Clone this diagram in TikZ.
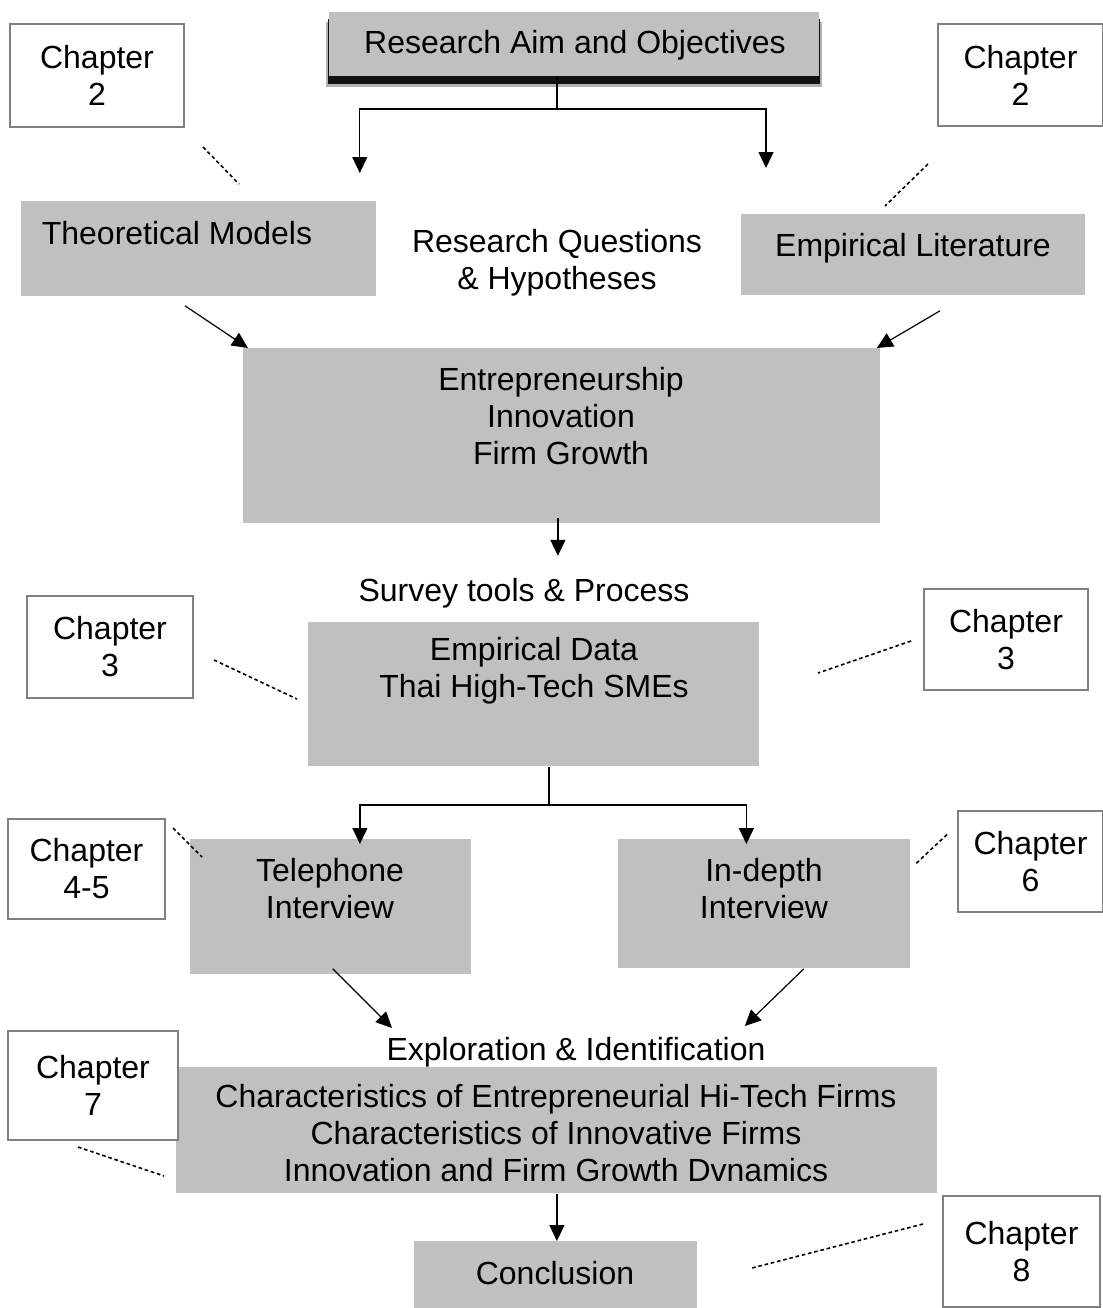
\documentclass[tikz,border=0pt]{standalone}
\usepackage{fontspec}
\setmainfont{Liberation Sans}
\usetikzlibrary{arrows.meta,shadows}
\definecolor{panelgray}{HTML}{C0C0C0}
\definecolor{framegray}{HTML}{808080}

\begin{document}
\begin{tikzpicture}[x=0.5pt, y=-0.5pt]

  % Styles
  \tikzset{
    every node/.style={font=\fontsize{16}{18.5}\selectfont},
    panel/.style={fill=panelgray, inner sep=0pt, anchor=north west},
    caption/.style={align=center, inner sep=0pt},
    chapbox/.style={draw=framegray, line width=1pt, fill=white, align=center,
      inner sep=0pt, anchor=north west},
    link/.style={line width=0.6pt},
    arr/.style={link, -{Triangle[length=8pt,width=7.5pt]}},
    hint/.style={line width=0.8pt, dash pattern=on 1.8pt off 1.4pt}
  }

  % Page
  \path[use as bounding box, fill=white] (0,0) rectangle (1103,1308);

  % Aim
  \node[panel, minimum width=245pt, minimum height=32pt,
    general shadow={fill=black, shadow yshift=-5pt, shadow scale=1.012, opacity=0.3},
    general shadow={fill=black, shadow yshift=-3.5pt, shadow scale=1.004, opacity=0.9}]
    (aim) at (329,12) {};
  \node[caption] (aim-txt) at (575,45) {Research Aim and Objectives};

  % Literature
  \node[panel, minimum width=177.5pt, minimum height=47.5pt] (theory) at (21,201) {};
  \node[caption] (theory-txt) at (177,233) {Theoretical Models};

  \node[caption] (rq) at (557,263) {Research Questions\\\& Hypotheses};

  \node[panel, minimum width=172pt, minimum height=40.5pt] (emplit) at (741,214) {};
  \node[caption] (emplit-txt) at (913,248) {Empirical Literature};

  % Core concepts
  \node[panel, minimum width=318.5pt, minimum height=87.5pt] (core) at (243,348) {};
  \node[caption] (core-txt) at (561,416) {Entrepreneurship\\Innovation\\Firm Growth};

  % Data
  \node[caption] (survey) at (524,593) {Survey tools \& Process};

  \node[panel, minimum width=225.5pt, minimum height=72pt] (empdata) at (308,622) {};
  \node[caption] (empdata-txt) at (534,671) {Empirical Data\\Thai High-Tech SMEs};

  \node[panel, minimum width=140.5pt, minimum height=67.5pt] (tel) at (190,839) {};
  \node[caption] (tel-txt) at (330,889) {Telephone\\Interview};

  \node[panel, minimum width=146pt, minimum height=64.5pt] (indepth) at (618,839) {};
  \node[caption] (indepth-txt) at (764,889) {In-depth\\Interview};

  % Findings
  \node[caption] (expl) at (576,1052) {Exploration \& Identification};

  \node[panel, minimum width=380.5pt, minimum height=63pt] (chars) at (176,1067) {};
  \node[caption] (chars-txt) at (556,1133) {Characteristics of Entrepreneurial Hi-Tech Firms\\Characteristics of Innovative Firms\\Innovation and Firm Growth Dvnamics};

  \node[panel, minimum width=141.5pt, minimum height=34pt] (concl) at (414,1241) {};
  \node[caption] (concl-txt) at (555,1273) {Conclusion};

  % Chapters
  \node[chapbox, minimum width=87pt, minimum height=51.5pt] (ch2L) at (9,23) {Chapter\\2};
  \node[chapbox, minimum width=82.5pt, minimum height=51pt] (ch2R) at (937,23) {Chapter\\2};
  \node[chapbox, minimum width=83pt, minimum height=51pt] (ch3L) at (26,595) {Chapter\\3};
  \node[chapbox, minimum width=82pt, minimum height=50.5pt] (ch3R) at (923,588) {Chapter\\3};
  \node[chapbox, minimum width=78.5pt, minimum height=50pt] (ch45) at (7,818) {Chapter\\4-5};
  \node[chapbox, minimum width=72.5pt, minimum height=50.5pt] (ch6) at (957,810) {Chapter\\6};
  \node[chapbox, minimum width=85pt, minimum height=54.5pt] (ch7) at (7,1030) {Chapter\\7};
  \node[chapbox, minimum width=78.5pt, minimum height=55.5pt] (ch8) at (942,1195) {Chapter\\8};

  % Arrows
  \coordinate (fork1) at (557,109);
  \draw[link] (aim.south -| fork1) -- (fork1);
  \draw[arr] (fork1) -| ([shift={(-17,-28)}]theory.north east);
  \draw[arr] (fork1) -| ([shift={(25,-46)}]emplit.north west);

  \draw[arr] ([shift={(164,9)}]theory.south west) -- ([shift={(5,0)}]core.north west);
  \draw[arr] ([shift={(199,15)}]emplit.south west) -- ([shift={(-4,0)}]core.north east);

  \draw[arr] ([shift={(-4,-6)}]core.south) -- ([shift={(-4,32)}]core.south);

  \coordinate (fork2) at (549,805);
  \draw[link] (empdata.south -| fork2) -- (fork2);
  \draw[arr] (fork2) -| ([shift={(29,5)}]tel.north);
  \draw[arr] (fork2) -| ([shift={(-18,5)}]indepth.north);

  \draw[arr] ([shift={(2,-6)}]tel.south) -- ([shift={(216,-39)}]chars.north west);
  \draw[arr] ([shift={(-107,0)}]indepth.south east) -- ([shift={(-193,-41)}]chars.north east);

  \draw[arr] (chars.south) -- (chars.south |- concl.north);

  % Chapter hints
  \draw[hint] ([shift={(18,19)}]ch2L.south east) -- ++(36,37);
  \draw[hint] ([shift={(-9,37)}]ch2R.south west) -- ++(-43,42);
  \draw[hint] ([shift={(20,13)}]ch3L.east) -- ++(83,39);
  \draw[hint] ([shift={(-12,1.5)}]ch3R.west) -- ++(-93,32);
  \draw[hint] ([shift={(7,10)}]ch45.north east) -- ++(29,29);
  \draw[hint] ([shift={(-10,-27)}]ch6.west) -- ++(-32,30);
  \draw[hint] ([shift={(-15,6)}]ch7.south) -- ++(86,29);
  \draw[hint] ([shift={(-19,-27.5)}]ch8.west) -- ++(-171,44);

\end{tikzpicture}
\end{document}
